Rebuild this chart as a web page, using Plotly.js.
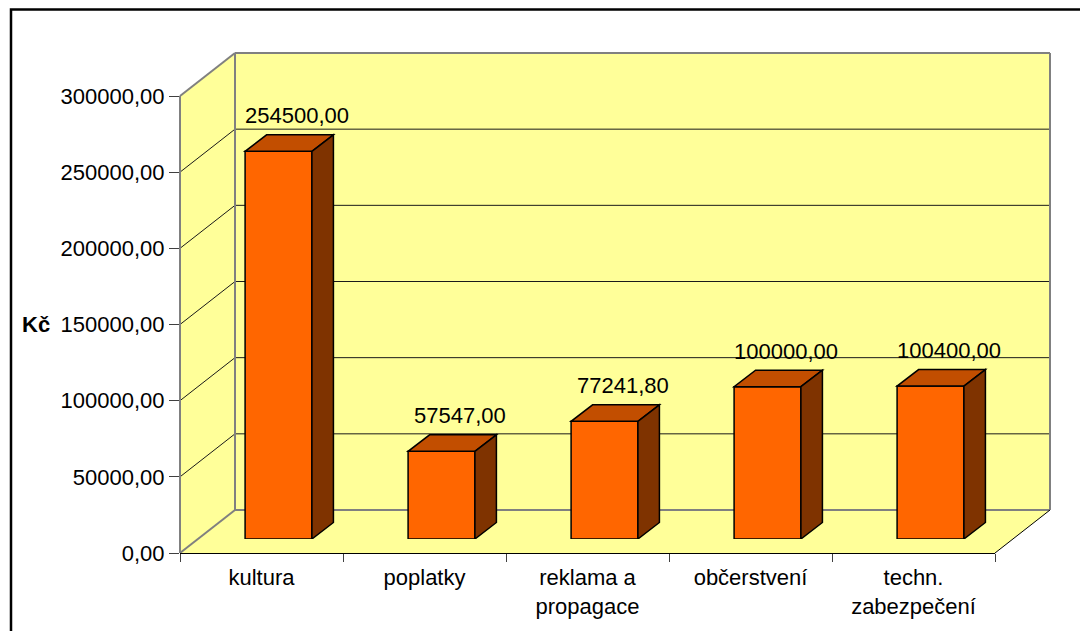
<!DOCTYPE html>
<html>
<head>
<meta charset="utf-8">
<script src="https://cdn.plot.ly/plotly-3.0.1.min.js"></script>
<style>html,body{margin:0;padding:0;background:#fff;}#chart{width:1080px;height:631px;}</style>
</head>
<body>
<div id="chart"></div>
<script>
// ---- data ----
const categories = ['kultura', 'poplatky', 'reklama a<br>propagace', 'občerstvení', 'techn.<br>zabezpečení'];
const values = [254500, 57547, 77241.8, 100000, 100400];
const yTickVals = [0, 50000, 100000, 150000, 200000, 250000, 300000];
const yMax = 300000;
const axisTitle = 'Kč';

// ---- layout geometry (pixels) ----
const W = 1080, H = 631;
const FRONT = {left: 180, right: 995, bottom: 553, top: 96};
const DEPTH = {dx: 55, dy: 43};          // back wall offset
const BARSHIFT = {dx: 17, dy: 14};       // bar front plane offset
const BARDEPTH = {dx: 21.5, dy: 16.5};   // bar box depth
const BARWIDTH = 0.41;
const FS = 22;

const mL = FRONT.left, mB = H - FRONT.bottom;
const mR = W - (FRONT.right + DEPTH.dx), mT = FRONT.top - DEPTH.dy;
const PW = W - mL - mR, PH = H - mT - mB;
const frontW = FRONT.right - FRONT.left, frontH = FRONT.bottom - FRONT.top;

const px = x => (x - mL) / PW;
const py = y => (H - mB - y) / PH;
const vToPx = v => FRONT.bottom - v / yMax * frontH;

const FILL = '#FFFF99', EDGE = '#808080', GRID = '#1a1a1a';
const shapes = [];
function poly(pts, fill, lineColor, lw) {
  const d = pts.map((p, i) => (i ? 'L' : 'M') + px(p[0]).toFixed(5) + ',' + py(p[1]).toFixed(5)).join(' ') + ' Z';
  shapes.push({type: 'path', xref: 'paper', yref: 'paper', path: d, fillcolor: fill,
    line: {color: lineColor || 'rgba(0,0,0,0)', width: lw || 0}, layer: 'below'});
}
function seg(a, b, color, w) {
  shapes.push({type: 'line', xref: 'paper', yref: 'paper', x0: px(a[0]), y0: py(a[1]), x1: px(b[0]), y1: py(b[1]),
    line: {color: color, width: w}, layer: 'below'});
}
const bx0 = FRONT.left + DEPTH.dx, bx1 = FRONT.right + DEPTH.dx;
const by0 = FRONT.bottom - DEPTH.dy, by1 = FRONT.top - DEPTH.dy;
// walls and floor
poly([[FRONT.left, FRONT.bottom], [FRONT.left, FRONT.top], [bx0, by1], [bx0, by0]], FILL);
poly([[bx0, by1], [bx1, by1], [bx1, by0], [bx0, by0]], FILL);
poly([[FRONT.left, FRONT.bottom], [FRONT.right, FRONT.bottom], [bx1, by0], [bx0, by0]], FILL);
// gridlines
yTickVals.forEach(v => {
  if (v === 0 || v === yMax) return;
  const y = vToPx(v);
  seg([FRONT.left, y], [bx0, y - DEPTH.dy], GRID, 1);
  seg([bx0, y - DEPTH.dy], [bx1, y - DEPTH.dy], GRID, 1);
});
// wall edges
seg([FRONT.left, FRONT.bottom], [FRONT.left, FRONT.top], EDGE, 2);
seg([FRONT.left, FRONT.top], [bx0, by1], EDGE, 2);
seg([bx0, by1], [bx1, by1], EDGE, 2);
seg([bx1, by1], [bx1, by0], EDGE, 2);
seg([bx0, by1], [bx0, by0], EDGE, 2);
seg([bx0, by0], [bx1, by0], EDGE, 2);
seg([FRONT.left, FRONT.bottom], [bx0, by0], EDGE, 2);
seg([FRONT.right, FRONT.bottom], [bx1, by0], '#000', 1);
// outer frame
shapes.push({type: 'rect', xref: 'paper', yref: 'paper', x0: px(11), x1: px(W + 50), y0: py(9.5), y1: py(H + 50),
  line: {color: '#000', width: 2.5}, fillcolor: 'rgba(0,0,0,0)', layer: 'below'});

// bar top / side faces (data coords on bar plane axes)
const catPx = frontW / categories.length;
const dxD = BARDEPTH.dx / catPx, dyD = BARDEPTH.dy * yMax / frontH;
const hw = BARWIDTH / 2;
values.forEach((v, i) => {
  const l = i - hw, r = i + hw;
  shapes.push({type: 'path', xref: 'x2', yref: 'y2', layer: 'above',
    path: `M${l},${v} L${r},${v} L${r + dxD},${v + dyD} L${l + dxD},${v + dyD} Z`,
    fillcolor: '#C24E00', line: {color: '#000', width: 1.5}});
  shapes.push({type: 'path', xref: 'x2', yref: 'y2', layer: 'above',
    path: `M${r},0 L${r},${v} L${r + dxD},${v + dyD} L${r + dxD},${dyD} Z`,
    fillcolor: '#7F3300', line: {color: '#000', width: 1.5}});
});

const font = {family: '"Liberation Sans", Arial, sans-serif', size: FS, color: '#000'};
const fmt = v => v.toFixed(2).replace('.', ',');
const annotations = values.map((v, i) => ({
  xref: 'x2', yref: 'y2', x: i, y: v, text: fmt(v), showarrow: false,
  xanchor: 'center', yanchor: 'bottom', xshift: 18, yshift: 21,
  font: font
}));
annotations.push({xref: 'paper', yref: 'paper', x: px(36), y: py((FRONT.top + FRONT.bottom) / 2),
  xanchor: 'center', yanchor: 'middle', text: '<b>' + axisTitle + '</b>', showarrow: false, font: font});

const trace = {
  type: 'bar', x: categories, y: values, xaxis: 'x2', yaxis: 'y2', width: BARWIDTH,
  marker: {color: '#FF6600', line: {color: '#000', width: 1.5}}, hoverinfo: 'skip', showlegend: false
};
const anchorTrace = {type: 'scatter', x: categories, y: values.map(() => null), xaxis: 'x', yaxis: 'y',
  mode: 'markers', showlegend: false, hoverinfo: 'skip'};

const layout = {
  width: W, height: H, font: font, separators: ', ',
  margin: {l: mL, r: mR, t: mT, b: mB, pad: 0},
  paper_bgcolor: '#fff', plot_bgcolor: 'rgba(0,0,0,0)', showlegend: false,
  xaxis: {type: 'category', domain: [0, frontW / PW], anchor: 'y', range: [-0.5, categories.length - 0.5],
    categoryorder: 'array', categoryarray: categories,
    showgrid: false, zeroline: false, showline: true, linecolor: '#000', linewidth: 1,
    ticks: 'outside', tickson: 'boundaries', ticklen: 8, tickcolor: '#404040', tickwidth: 1,
    ticklabelstandoff: 5, tickfont: font, fixedrange: true},
  yaxis: {domain: [0, frontH / PH], anchor: 'x', range: [0, yMax], tickvals: yTickVals, tickformat: '.2f',
    showgrid: false, zeroline: false, showline: false,
    ticks: 'outside', ticklen: 10, tickcolor: '#404040', tickwidth: 1, tickfont: font, fixedrange: true},
  xaxis2: {type: 'category', domain: [BARSHIFT.dx / PW, (BARSHIFT.dx + frontW) / PW], anchor: 'y2',
    range: [-0.5, categories.length - 0.5], categoryorder: 'array', categoryarray: categories, visible: false},
  yaxis2: {domain: [BARSHIFT.dy / PH, (BARSHIFT.dy + frontH) / PH], anchor: 'x2', range: [0, yMax], visible: false},
  shapes: shapes, annotations: annotations
};

Plotly.newPlot('chart', [anchorTrace, trace], layout, {displayModeBar: false, staticPlot: true});
</script>
</body>
</html>
